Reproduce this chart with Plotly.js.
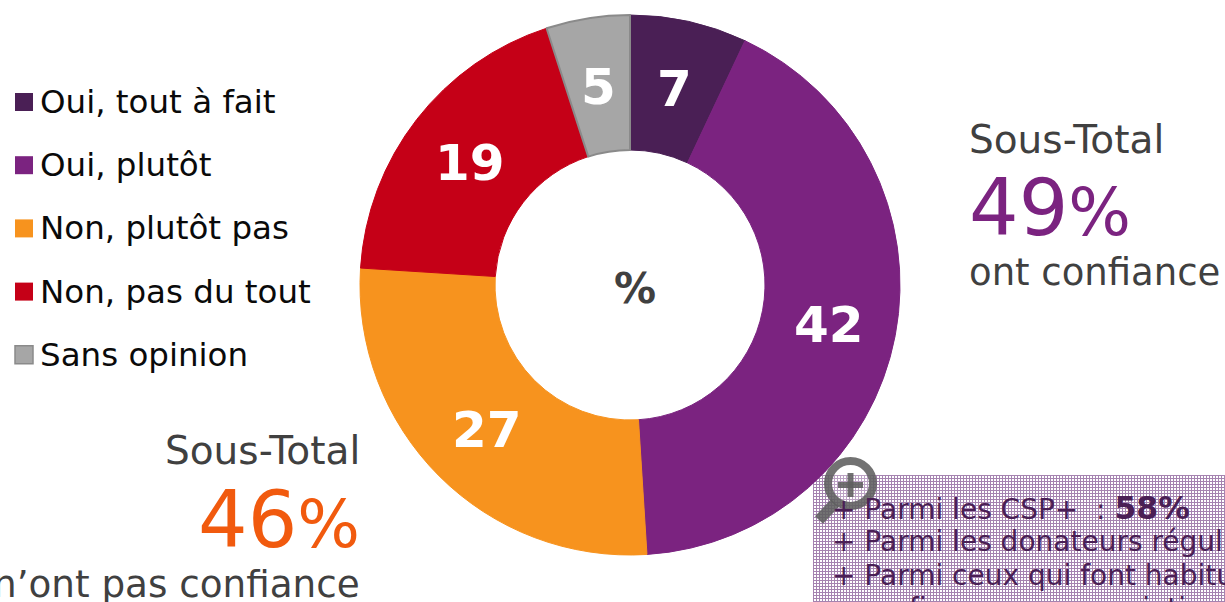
<!DOCTYPE html>
<html><head><meta charset="utf-8">
<script src="https://cdn.plot.ly/plotly-3.0.1.min.js"></script>
<style>html,body{margin:0;padding:0;background:#fff;overflow:hidden}#c{width:1225px;height:602px;position:relative}
#tex{position:absolute;left:813px;top:475px;width:412px;height:127px;
background-color:#fff;background-image:
repeating-linear-gradient(0deg,#7c4a8c 0 1px,transparent 1px 3px),
repeating-linear-gradient(90deg,#7c4a8c 0 1px,transparent 1px 3px);opacity:.68}
#p{position:absolute;left:0;top:0}
</style></head><body>
<div id="c"><div id="tex"></div><div id="p"></div></div>
<script>
const categories=["Oui, tout à fait","Oui, plutôt","Non, plutôt pas","Non, pas du tout","Sans opinion"];
const values=[7,42,27,19,5];
const colors=["#4A1F55","#7B2380","#F7931E","#C50017","#A6A6A6"];
const borders=["#4A1F55","#7B2380","#F7931E","#C50017","#8A8A8A"];
const boxLines=[
 ['+ Parmi les CSP+ &nbsp;: <span style="font-size:31.5px"><b>58%</b></span>',508],
 ["+ Parmi les donateurs réguliers",541],
 ["+ Parmi ceux qui font habituellement",575],
 ["   confiance aux associations (62%)",608]];
const W=1225,H=602,F="DejaVu Sans, Verdana, sans-serif";
const CX=630,CY=285,R=270,HOLE=0.5;
const px=x=>x/W, py=y=>1-y/H;
const ann=[],shapes=[];
const T=(x,y,text,size,color,anchor)=>ann.push({xref:'paper',yref:'paper',x:px(x),y:py(y),text,showarrow:false,
  xanchor:anchor||'left',yanchor:'middle',align:anchor||'left',font:{family:F,size,color}});
categories.forEach((c,i)=>{
  const y=102+i*63.2;
  shapes.push({type:'rect',xref:'paper',yref:'paper',x0:px(15),x1:px(33),y0:py(y-9),y1:py(y+9),
    fillcolor:colors[i],line:{color:borders[i],width:i==4?1.5:0}});
  T(38,y,c,32.5,'#0a0a0a');
});
const pct=s=>s+'<span style="font-size:66px">%</span>';
T(967,139,'Sous-Total',39,'#404040');
T(967,208,pct('49'),78,'#7B2380');
T(967,272,'ont confiance',37,'#404040');
T(362,450,'Sous-Total',39,'#404040','right');
T(362,520,pct('46'),78,'#F15A0E','right');
T(362,584,'n’ont pas confiance',37.3,'#404040','right');
T(635,288,'<b>%</b>',42,'#404040','center');
boxLines.forEach(l=>T(830,l[1],l[0],28,'#4A1F55'));
const total=values.reduce((a,b)=>a+b,0);
let cum=0;
values.forEach(v=>{
  const a=(cum+v/2)/total*2*Math.PI; cum+=v;
  const r=R*(1+HOLE)/2;
  T(CX+r*Math.sin(a),CY-r*Math.cos(a)+2,'<b>'+v+'</b>',50,'#fff','center');
});
const g='rgba(95,95,95,0.88)';
shapes.push({type:'circle',xref:'paper',yref:'paper',x0:px(828),x1:px(873),y0:py(461),y1:py(506),fillcolor:'rgba(255,255,255,0.25)',line:{color:g,width:8}});
shapes.push({type:'line',xref:'paper',yref:'paper',x0:px(835),x1:px(819),y0:py(503),y1:py(520),line:{color:g,width:11}});
shapes.push({type:'line',xref:'paper',yref:'paper',x0:px(838),x1:px(863),y0:py(485),y1:py(485),line:{color:g,width:6}});
shapes.push({type:'line',xref:'paper',yref:'paper',x0:px(850.5),x1:px(850.5),y0:py(473),y1:py(497),line:{color:g,width:6}});
Plotly.newPlot('p',[{type:'pie',labels:categories,values:values,hole:HOLE,sort:false,direction:'clockwise',rotation:0,
  marker:{colors:colors,line:{color:borders,width:[1,1,1,1,2]}},
  textinfo:'none',
  domain:{x:[(CX-R)/W,(CX+R)/W],y:[1-(CY+R)/H,1-(CY-R)/H]},showlegend:false,hoverinfo:'label+value'}],
 {width:W,height:H,margin:{l:0,r:0,t:0,b:0},paper_bgcolor:'rgba(0,0,0,0)',plot_bgcolor:'rgba(0,0,0,0)',
  annotations:ann,shapes:shapes,showlegend:false},{displayModeBar:false,staticPlot:true});
</script></body></html>
